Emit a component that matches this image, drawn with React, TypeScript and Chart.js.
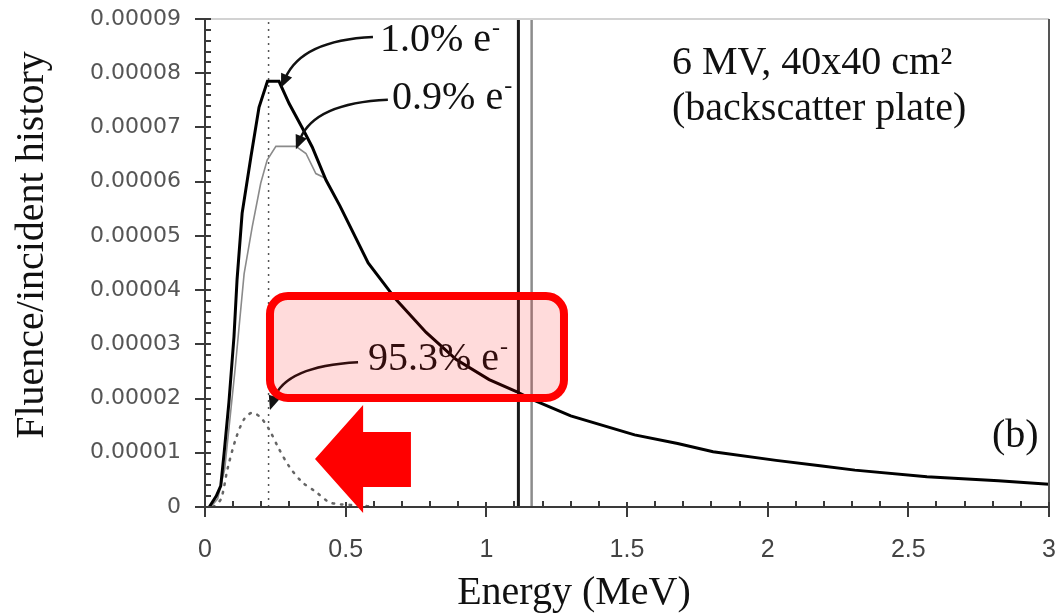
import React, { useEffect, useRef } from 'react';
import { Chart, registerables } from 'chart.js';

Chart.register(...registerables);

// ---- tick labels ----
const xTickLabels = ['0', '0.5', '1', '1.5', '2', '2.5', '3'];
const yTickLabels = ['0', '0.00001', '0.00002', '0.00003', '0.00004', '0.00005', '0.00006', '0.00007', '0.00008', '0.00009'];

// ---- total spectrum (1.0% e-) ----
const energyTotal = [0.015, 0.04, 0.056, 0.068, 0.085, 0.103, 0.114, 0.132, 0.163, 0.192, 0.222, 0.263, 0.299, 0.345, 0.381, 0.43, 0.48, 0.58, 0.68, 0.786, 0.893, 1.01, 1.107, 1.16, 1.3, 1.527, 1.68, 1.806, 2.03, 2.186, 2.31, 2.566, 2.82, 3.0];
const fluenceTotal = [0, 0.2e-5, 0.39e-5, 1.0e-5, 1.93e-5, 3.14e-5, 4.2e-5, 5.42e-5, 6.45e-5, 7.37e-5, 7.85e-5, 7.85e-5, 7.44e-5, 7.0e-5, 6.64e-5, 6.03e-5, 5.55e-5, 4.5e-5, 3.82e-5, 3.22e-5, 2.72e-5, 2.35e-5, 2.13e-5, 1.99e-5, 1.68e-5, 1.33e-5, 1.17e-5, 1.02e-5, 0.86e-5, 0.76e-5, 0.68e-5, 0.56e-5, 0.485e-5, 0.42e-5];

// ---- 0.9% e- spectrum ----
const energyMid = [0.02, 0.045, 0.07, 0.107, 0.139, 0.168, 0.198, 0.221, 0.252, 0.323, 0.359, 0.394, 0.43];
const fluenceMid = [0, 0.15e-5, 0.7e-5, 2.54e-5, 4.3e-5, 5.17e-5, 5.97e-5, 6.4e-5, 6.65e-5, 6.65e-5, 6.52e-5, 6.15e-5, 6.06e-5];

// ---- 95.3% e- spectrum (dotted) ----
const energyLow = [0.03, 0.057, 0.08, 0.109, 0.139, 0.168, 0.198, 0.228, 0.263, 0.299, 0.345, 0.394, 0.441, 0.48, 0.55, 0.6];
const fluenceLow = [0, 0.15e-5, 0.7e-5, 1.25e-5, 1.62e-5, 1.74e-5, 1.65e-5, 1.43e-5, 1.07e-5, 0.75e-5, 0.46e-5, 0.28e-5, 0.09e-5, 0.05e-5, 0.03e-5, 0];

// ---- vertical marker energies ----
const markerEnergies = [0.226, 1.114, 1.161];

// ---- texts ----
const annotationLabels = ['1.0% e', '0.9% e', '95.3% e'];
const boxTitle = ['6 MV, 40x40 cm\u00B2', '(backscatter plate)'];
const panelLabel = '(b)';
const xTitle = 'Energy (MeV)';
const yTitle = 'Fluence/incident history';

// ---- annotation anchors (data units) ----
const labelAnchors = [[0.622, 8.41e-5], [0.665, 7.34e-5], [0.579, 2.53e-5]];
const arrowFrom = [[0.597, 8.67e-5], [0.650, 7.51e-5], [0.544, 2.67e-5]];
const arrowCtrl = [[0.345, 8.61e-5], [0.391, 7.45e-5], [0.284, 2.60e-5]];
const arrowTo = [[0.270, 7.73e-5], [0.323, 6.60e-5], [0.231, 1.79e-5]];
const boxTitleAnchors = [[1.66, 7.98e-5], [1.66, 7.13e-5]];
const panelAnchor = [2.797, 1.107e-5];
const highlightBox = { x0: 0.231, x1: 1.276, y0: 2.01e-5, y1: 3.892e-5 };
const redArrowX = [0.391, 0.562, 0.562, 0.732, 0.732, 0.562, 0.562];
const redArrowY = [0.885e-5, 1.881e-5, 1.383e-5, 1.383e-5, 0.369e-5, 0.369e-5, -0.111e-5];

const SERIF = "'Liberation Serif', 'Times New Roman', serif";

const zip = (xs: number[], ys: number[]) => xs.map((x, i) => ({ x, y: ys[i] }));

const overlayPlugin = {
  id: 'overlay',
  afterDraw(chart: any) {
    const { ctx, chartArea: a, scales } = chart;
    const xs = scales.x;
    const ys = scales.y;
    const px = (v: number) => xs.getPixelForValue(v);
    const py = (v: number) => ys.getPixelForValue(v);
    const seg = (x1: number, y1: number, x2: number, y2: number) => {
      ctx.beginPath();
      ctx.moveTo(x1, y1);
      ctx.lineTo(x2, y2);
      ctx.stroke();
    };
    ctx.save();
    ctx.setLineDash([]);
    // frame
    ctx.lineWidth = 2;
    ctx.strokeStyle = '#d2d2d2';
    seg(a.left, a.top, a.right, a.top);
    ctx.strokeStyle = '#555';
    seg(a.right, a.top, a.right, a.bottom);
    ctx.strokeStyle = '#3a3a3a';
    seg(a.left, a.top, a.left, a.bottom);
    seg(a.left - 1, a.bottom, a.right, a.bottom);
    // y ticks
    ctx.lineWidth = 2;
    for (let i = 0; i <= 45; i++) {
      const v = i * 0.2e-5;
      const y = Math.round(py(v));
      if (i % 5 === 0) seg(a.left - 10, y, a.left + 6, y);
      else seg(a.left, y, a.left + 6, y);
    }
    // x ticks
    for (let i = 0; i <= 30; i++) {
      const x = Math.round(px(i / 10));
      if (i % 5 === 0) seg(x, a.bottom - 5, x, a.bottom + 10);
      else seg(x, a.bottom - 6, x, a.bottom);
    }

    // axis titles
    ctx.fillStyle = '#111';
    ctx.font = `40px ${SERIF}`;
    ctx.textAlign = 'center';
    ctx.textBaseline = 'alphabetic';
    ctx.fillText(xTitle, 574, 604);
    ctx.save();
    ctx.translate(43, 245);
    ctx.rotate(-Math.PI / 2);
    ctx.fillText(yTitle, 0, 0);
    ctx.restore();

    // annotation labels with superscript minus
    ctx.textAlign = 'left';
    annotationLabels.forEach((t, i) => {
      const x = px(labelAnchors[i][0]);
      const y = py(labelAnchors[i][1]);
      ctx.font = `40px ${SERIF}`;
      ctx.fillStyle = '#111';
      ctx.fillText(t, x, y);
      const w = ctx.measureText(t).width;
      ctx.font = `24px ${SERIF}`;
      ctx.fillText('-', x + w + 1, y - 16);
    });

    // box title & panel label
    ctx.font = `40px ${SERIF}`;
    boxTitle.forEach((t, i) => {
      ctx.fillText(t, px(boxTitleAnchors[i][0]), py(boxTitleAnchors[i][1]));
    });
    ctx.fillText(panelLabel, px(panelAnchor[0]), py(panelAnchor[1]));

    // curved arrows
    ctx.strokeStyle = '#111';
    ctx.fillStyle = '#111';
    arrowFrom.forEach((f, i) => {
      const p0 = [px(f[0]), py(f[1])];
      const c = [px(arrowCtrl[i][0]), py(arrowCtrl[i][1])];
      const tip = [px(arrowTo[i][0]), py(arrowTo[i][1])];
      const dx = tip[0] - c[0];
      const dy = tip[1] - c[1];
      const len = Math.hypot(dx, dy);
      const ux = dx / len;
      const uy = dy / len;
      const L = 14;
      const W = 6;
      const bx = tip[0] - ux * L;
      const by = tip[1] - uy * L;
      ctx.lineWidth = 2.5;
      ctx.beginPath();
      ctx.moveTo(p0[0], p0[1]);
      ctx.quadraticCurveTo(c[0], c[1], bx + ux * 3, by + uy * 3);
      ctx.stroke();
      ctx.beginPath();
      ctx.moveTo(tip[0], tip[1]);
      ctx.lineTo(bx - uy * W, by + ux * W);
      ctx.lineTo(bx + uy * W, by - ux * W);
      ctx.closePath();
      ctx.fill();
    });

    // highlight box
    const bx0 = px(highlightBox.x0);
    const bx1 = px(highlightBox.x1);
    const by0 = py(highlightBox.y1);
    const by1 = py(highlightBox.y0);
    ctx.beginPath();
    ctx.roundRect(bx0, by0, bx1 - bx0, by1 - by0, 18);
    ctx.fillStyle = 'rgba(255, 0, 0, 0.14)';
    ctx.fill();
    ctx.lineWidth = 8;
    ctx.strokeStyle = '#ff0000';
    ctx.stroke();

    // red block arrow
    ctx.beginPath();
    redArrowX.forEach((xv, i) => {
      const X = px(xv);
      const Y = py(redArrowY[i]);
      if (i === 0) ctx.moveTo(X, Y);
      else ctx.lineTo(X, Y);
    });
    ctx.closePath();
    ctx.fillStyle = '#ff0000';
    ctx.fill();
    ctx.restore();
  },
};

export default function App() {
  const ref = useRef<HTMLCanvasElement | null>(null);
  useEffect(() => {
    document.body.style.margin = '0';
    const canvas = ref.current;
    if (!canvas) return;
    const markerStyles = [
      { color: '#555', width: 1.5, dash: [2, 5] },
      { color: '#1a1a1a', width: 3, dash: [] },
      { color: '#8c8c8c', width: 2.5, dash: [] },
    ];
    const markerSets = markerEnergies.map((e, i) => ({
      data: [{ x: e, y: 0 }, { x: e, y: 9e-5 }],
      borderColor: markerStyles[i].color,
      borderWidth: markerStyles[i].width,
      borderDash: markerStyles[i].dash,
      pointRadius: 0,
    }));
    const chart = new Chart(canvas, {
      type: 'line',
      data: {
        datasets: [
          { data: zip(energyTotal, fluenceTotal), borderColor: '#000', borderWidth: 3, pointRadius: 0, tension: 0 },
          { data: zip(energyMid, fluenceMid), borderColor: '#8a8a8a', borderWidth: 1.6, pointRadius: 0, tension: 0 },
          { data: zip(energyLow, fluenceLow), borderColor: '#666', borderWidth: 2.5, borderDash: [1.5, 7], borderCapStyle: 'round', pointRadius: 0, tension: 0.3 },
          ...markerSets,
        ] as any,
      },
      options: {
        responsive: false,
        animation: false,
        devicePixelRatio: 1,
        layout: { padding: { top: 19, right: 9, left: 0, bottom: 0 } },
        plugins: { legend: { display: false }, tooltip: { enabled: false } },
        scales: {
          x: {
            type: 'linear',
            min: 0,
            max: 3,
            afterFit: (s: any) => {
              s.height = 107;
              s.paddingLeft = 0;
              s.paddingRight = 0;
            },
            grid: { display: false, drawTicks: false },
            border: { display: false },
            ticks: {
              stepSize: 0.5,
              padding: 28,
              color: '#444',
              autoSkip: false,
              maxRotation: 0,
              font: { family: "'Liberation Sans', Arial, sans-serif", size: 25 },
              callback: (_v: any, i: number) => xTickLabels[i],
            },
          },
          y: {
            type: 'linear',
            min: 0,
            max: 9e-5,
            afterFit: (s: any) => {
              s.width = 205;
              s.paddingTop = 0;
              s.paddingBottom = 0;
            },
            grid: { display: false, drawTicks: false },
            border: { display: false },
            ticks: {
              stepSize: 1e-5,
              padding: 24,
              color: '#555',
              autoSkip: false,
              font: { family: "'DejaVu Sans', sans-serif", size: 22 },
              callback: (_v: any, i: number) => yTickLabels[i],
            },
          },
        },
      } as any,
      plugins: [overlayPlugin],
    });
    return () => chart.destroy();
  }, []);
  return (
    <div style={{ width: 1058, height: 614 }}>
      <canvas ref={ref} width={1058} height={614} />
    </div>
  );
}
